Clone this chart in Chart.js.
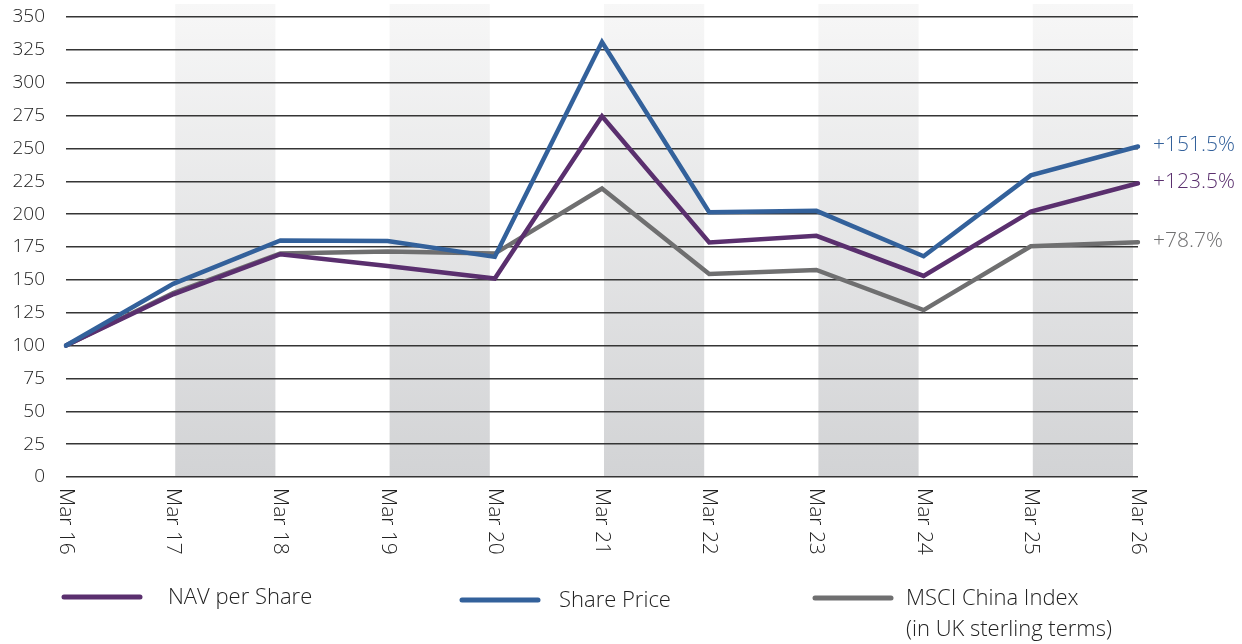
<!DOCTYPE html>
<html>
<head>
<meta charset="utf-8">
<script src="https://cdn.jsdelivr.net/npm/chart.js@4/dist/chart.umd.min.js"></script>
<style>
  html, body { margin: 0; padding: 0; background: #fff; }
  canvas { display: block; }
</style>
</head>
<body>
<canvas id="perfChart" width="1242" height="644"></canvas>
<script>
// data
const categories = ['Mar 16', 'Mar 17', 'Mar 18', 'Mar 19', 'Mar 20', 'Mar 21', 'Mar 22', 'Mar 23', 'Mar 24', 'Mar 25', 'Mar 26'];
const navPerShare = [100, 139, 169.5, 160.5, 151, 274.5, 178.5, 183.5, 153, 202, 223.5];
const sharePrice = [100, 147, 180, 179.5, 167.5, 331, 201.5, 202.5, 168, 229.5, 251.5];
const msciChina = [100, 140, 170, 171.5, 170, 219.5, 154.5, 157.5, 127, 175.5, 178.7];
const yTicks = [0, 25, 50, 75, 100, 125, 150, 175, 200, 225, 250, 275, 300, 325, 350];
const endLabels = ['+123.5%', '+151.5%', '+78.7%'];
const seriesNames = ['NAV per Share', 'Share Price', 'MSCI China Index'];

const PURPLE = '#5a2f6e';
const BLUE = '#33619b';
const GREY = '#6f6f70';
const FONT = '"Open Sans", Lato, sans-serif';

// shaded columns, tick labels, end labels and legend
const decorations = {
    id: 'decorations',
    beforeDraw(chart) {
        const ctx = chart.ctx;
        const x = chart.scales.x;
        const area = chart.chartArea;
        const grad = ctx.createLinearGradient(0, 4, 0, area.bottom);
        grad.addColorStop(0, '#f7f7f7');
        grad.addColorStop(1, '#d2d3d5');
        ctx.save();
        ctx.fillStyle = grad;
        for (let i = 1; i < categories.length - 1; i += 2) {
            const x0 = x.getPixelForValue(i) + 2;
            const x1 = x.getPixelForValue(i + 1) - 5;
            ctx.fillRect(x0, 4, x1 - x0, area.bottom - 4);
        }
        ctx.restore();
    },
    afterDraw(chart) {
        const ctx = chart.ctx;
        const x = chart.scales.x;
        const y = chart.scales.y;
        const area = chart.chartArea;
        ctx.save();

        // rotated category labels
        ctx.fillStyle = '#222';
        ctx.font = '300 21px ' + FONT;
        ctx.textAlign = 'left';
        ctx.textBaseline = 'middle';
        categories.forEach(function(c, i) {
            ctx.save();
            ctx.translate(x.getPixelForValue(i), area.bottom + 11);
            ctx.rotate(Math.PI / 2);
            ctx.fillText(c, 0, 0);
            ctx.restore();
        });

        // end labels
        const last = categories.length - 1;
        const ends = [navPerShare[last], sharePrice[last], msciChina[last]];
        const cols = [PURPLE, BLUE, GREY];
        ctx.font = '300 21px ' + FONT;
        ends.forEach(function(v, i) {
            ctx.fillStyle = cols[i];
            ctx.fillText(endLabels[i], area.right + 15, y.getPixelForValue(v) - 1);
        });

        // legend
        const items = [
            { x: 62, y: 597, col: PURPLE, dx: 106, text: [seriesNames[0]] },
            { x: 460, y: 600, col: BLUE, dx: 99, text: [seriesNames[1]] },
            { x: 813, y: 598, col: GREY, dx: 93, text: [seriesNames[2], '(in UK sterling terms)'] }
        ];
        ctx.lineCap = 'round';
        ctx.lineWidth = 5;
        ctx.font = '300 22px ' + FONT;
        items.forEach(function(it) {
            ctx.strokeStyle = it.col;
            ctx.beginPath();
            ctx.moveTo(it.x + 2, it.y);
            ctx.lineTo(it.x + 78, it.y);
            ctx.stroke();
            ctx.fillStyle = '#222';
            it.text.forEach(function(t, k) {
                ctx.fillText(t, it.x + it.dx, it.y + 1 + k * 31);
            });
        });
        ctx.restore();
    }
};

document.addEventListener('DOMContentLoaded', function() {
    const ctx = document.getElementById('perfChart').getContext('2d');
    const line = function(label, data, color, order) {
        return {
            label: label,
            data: data,
            borderColor: color,
            backgroundColor: color,
            borderWidth: 4.5,
            pointRadius: 0,
            tension: 0,
            borderJoinStyle: 'miter',
            borderCapStyle: 'round',
            order: order
        };
    };
    new Chart(ctx, {
        type: 'line',
        data: {
            labels: categories,
            datasets: [
                line(seriesNames[0], navPerShare, PURPLE, 2),
                line(seriesNames[1], sharePrice, BLUE, 1),
                line(seriesNames[2], msciChina, GREY, 3)
            ]
        },
        options: {
            responsive: false,
            animation: false,
            devicePixelRatio: 1,
            layout: { padding: { top: 17, right: 104, bottom: 167, left: 0 } },
            plugins: {
                legend: { display: false },
                tooltip: { enabled: false }
            },
            scales: {
                x: { display: false, offset: false },
                y: {
                    min: 0,
                    max: 350,
                    afterFit: function(scale) {
                        scale.width = 66;
                        scale.paddingTop = 0;
                        scale.paddingBottom = 0;
                    },
                    afterBuildTicks: function(scale) {
                        scale.ticks = yTicks.map(function(v) { return { value: v }; });
                    },
                    ticks: {
                        color: '#222',
                        padding: 21,
                        font: { family: FONT, size: 19, weight: '300' }
                    },
                    grid: {
                        color: '#353535',
                        lineWidth: 1.5,
                        drawTicks: false
                    },
                    border: { display: false }
                }
            }
        },
        plugins: [decorations]
    });
});
</script>
</body>
</html>
